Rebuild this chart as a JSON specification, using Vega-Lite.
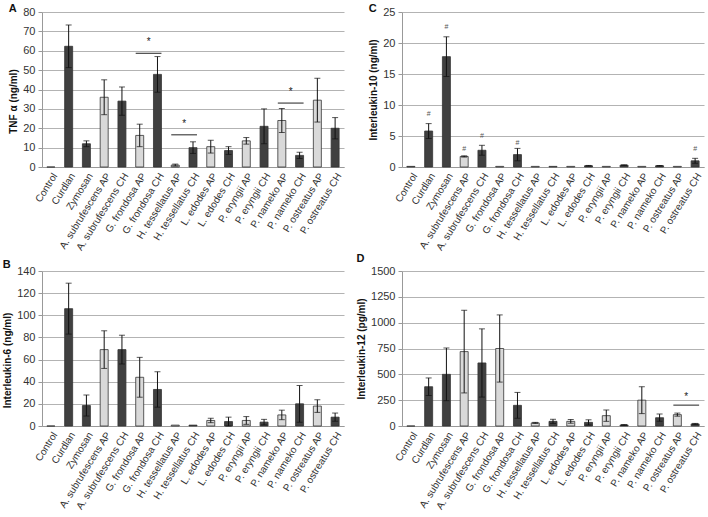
{
  "$schema": "https://vega.github.io/schema/vega-lite/v6.json",
  "padding": {"left": 2, "top": 3, "right": 2, "bottom": 0},
  "background": "white",
  "datasets": {
    "bars": [
      {"p": "A", "c": "Control", "v": 0, "e": 0, "t": "dark"},
      {"p": "A", "c": "Curdlan", "v": 62.3, "e": 11, "t": "dark"},
      {"p": "A", "c": "Zymosan", "v": 12, "e": 1.5, "t": "dark"},
      {"p": "A", "c": "A. subrufescens AP", "v": 36, "e": 9, "t": "light"},
      {"p": "A", "c": "A. subrufescens CH", "v": 34, "e": 7.3, "t": "dark"},
      {"p": "A", "c": "G. frondosa AP", "v": 16.3, "e": 5.8, "t": "light"},
      {"p": "A", "c": "G. frondosa CH", "v": 47.8, "e": 9.2, "t": "dark"},
      {"p": "A", "c": "H. tessellatus AP", "v": 1, "e": 0.5, "t": "light"},
      {"p": "A", "c": "H. tessellatus CH", "v": 10, "e": 3, "t": "dark"},
      {"p": "A", "c": "L. edodes AP", "v": 10.5, "e": 3.3, "t": "light"},
      {"p": "A", "c": "L. edodes CH", "v": 8.5, "e": 2, "t": "dark"},
      {"p": "A", "c": "P. eryngii AP", "v": 13.5, "e": 1.7, "t": "light"},
      {"p": "A", "c": "P. eryngii CH", "v": 21, "e": 9, "t": "dark"},
      {"p": "A", "c": "P. nameko AP", "v": 24, "e": 6.2, "t": "light"},
      {"p": "A", "c": "P. nameko CH", "v": 6, "e": 1.6, "t": "dark"},
      {"p": "A", "c": "P. ostreatus AP", "v": 34.5, "e": 11.3, "t": "light"},
      {"p": "A", "c": "P. ostreatus CH", "v": 20, "e": 5.5, "t": "dark"},
      {"p": "B", "c": "Control", "v": 0, "e": 0, "t": "dark"},
      {"p": "B", "c": "Curdlan", "v": 106, "e": 23, "t": "dark"},
      {"p": "B", "c": "Zymosan", "v": 18.5, "e": 9.5, "t": "dark"},
      {"p": "B", "c": "A. subrufescens AP", "v": 69, "e": 17, "t": "light"},
      {"p": "B", "c": "A. subrufescens CH", "v": 69, "e": 13, "t": "dark"},
      {"p": "B", "c": "G. frondosa AP", "v": 44, "e": 18, "t": "light"},
      {"p": "B", "c": "G. frondosa CH", "v": 33, "e": 16, "t": "dark"},
      {"p": "B", "c": "H. tessellatus AP", "v": 0.8, "e": 0, "t": "light"},
      {"p": "B", "c": "H. tessellatus CH", "v": 0.8, "e": 0, "t": "dark"},
      {"p": "B", "c": "L. edodes AP", "v": 5, "e": 2, "t": "light"},
      {"p": "B", "c": "L. edodes CH", "v": 4, "e": 4, "t": "dark"},
      {"p": "B", "c": "P. eryngii AP", "v": 5, "e": 3.5, "t": "light"},
      {"p": "B", "c": "P. eryngii CH", "v": 3.5, "e": 2.5, "t": "dark"},
      {"p": "B", "c": "P. nameko AP", "v": 10, "e": 4.3, "t": "light"},
      {"p": "B", "c": "P. nameko CH", "v": 20, "e": 16.5, "t": "dark"},
      {"p": "B", "c": "P. ostreatus AP", "v": 18, "e": 5.7, "t": "light"},
      {"p": "B", "c": "P. ostreatus CH", "v": 8, "e": 3.7, "t": "dark"},
      {"p": "C", "c": "Control", "v": 0.1, "e": 0, "t": "dark"},
      {"p": "C", "c": "Curdlan", "v": 5.8, "e": 1.2, "t": "dark"},
      {"p": "C", "c": "Zymosan", "v": 17.8, "e": 3.2, "t": "dark"},
      {"p": "C", "c": "A. subrufescens AP", "v": 1.7, "e": 0.1, "t": "light"},
      {"p": "C", "c": "A. subrufescens CH", "v": 2.7, "e": 0.8, "t": "dark"},
      {"p": "C", "c": "G. frondosa AP", "v": 0.1, "e": 0, "t": "light"},
      {"p": "C", "c": "G. frondosa CH", "v": 2.0, "e": 1.0, "t": "dark"},
      {"p": "C", "c": "H. tessellatus AP", "v": 0.1, "e": 0, "t": "light"},
      {"p": "C", "c": "H. tessellatus CH", "v": 0.1, "e": 0, "t": "dark"},
      {"p": "C", "c": "L. edodes AP", "v": 0.1, "e": 0, "t": "light"},
      {"p": "C", "c": "L. edodes CH", "v": 0.2, "e": 0.05, "t": "dark"},
      {"p": "C", "c": "P. eryngii AP", "v": 0.1, "e": 0, "t": "light"},
      {"p": "C", "c": "P. eryngii CH", "v": 0.3, "e": 0.05, "t": "dark"},
      {"p": "C", "c": "P. nameko AP", "v": 0.1, "e": 0, "t": "light"},
      {"p": "C", "c": "P. nameko CH", "v": 0.2, "e": 0.05, "t": "dark"},
      {"p": "C", "c": "P. ostreatus AP", "v": 0.1, "e": 0, "t": "light"},
      {"p": "C", "c": "P. ostreatus CH", "v": 1.0, "e": 0.4, "t": "dark"},
      {"p": "D", "c": "Control", "v": 0, "e": 0, "t": "dark"},
      {"p": "D", "c": "Curdlan", "v": 380, "e": 85, "t": "dark"},
      {"p": "D", "c": "Zymosan", "v": 500, "e": 255, "t": "dark"},
      {"p": "D", "c": "A. subrufescens AP", "v": 720, "e": 400, "t": "light"},
      {"p": "D", "c": "A. subrufescens CH", "v": 610, "e": 330, "t": "dark"},
      {"p": "D", "c": "G. frondosa AP", "v": 750, "e": 325, "t": "light"},
      {"p": "D", "c": "G. frondosa CH", "v": 200, "e": 125, "t": "dark"},
      {"p": "D", "c": "H. tessellatus AP", "v": 30, "e": 5, "t": "light"},
      {"p": "D", "c": "H. tessellatus CH", "v": 45, "e": 20, "t": "dark"},
      {"p": "D", "c": "L. edodes AP", "v": 45, "e": 18, "t": "light"},
      {"p": "D", "c": "L. edodes CH", "v": 35, "e": 25, "t": "dark"},
      {"p": "D", "c": "P. eryngii AP", "v": 100, "e": 55, "t": "light"},
      {"p": "D", "c": "P. eryngii CH", "v": 10, "e": 4, "t": "dark"},
      {"p": "D", "c": "P. nameko AP", "v": 250, "e": 130, "t": "light"},
      {"p": "D", "c": "P. nameko CH", "v": 80, "e": 35, "t": "dark"},
      {"p": "D", "c": "P. ostreatus AP", "v": 110, "e": 15, "t": "light"},
      {"p": "D", "c": "P. ostreatus CH", "v": 20, "e": 5, "t": "dark"}
    ],
    "sig": [
      {"p": "A", "c1": "G. frondosa AP", "c2": "G. frondosa CH", "ly": 58.7, "sy": 64.5},
      {"p": "A", "c1": "H. tessellatus AP", "c2": "H. tessellatus CH", "ly": 16.6, "sy": 22},
      {"p": "A", "c1": "P. nameko AP", "c2": "P. nameko CH", "ly": 33, "sy": 38.5},
      {"p": "D", "c1": "P. ostreatus AP", "c2": "P. ostreatus CH", "ly": 202, "sy": 280}
    ],
    "hash": [
      {"p": "C", "c": "Curdlan", "y": 8.6},
      {"p": "C", "c": "Zymosan", "y": 22.6},
      {"p": "C", "c": "A. subrufescens AP", "y": 2.9},
      {"p": "C", "c": "A. subrufescens CH", "y": 5.0},
      {"p": "C", "c": "G. frondosa CH", "y": 3.9},
      {"p": "C", "c": "P. ostreatus CH", "y": 2.9}
    ]
  },
  "columns": 2,
  "spacing": {"row": 1, "column": 12},
  "concat": [
    {
      "width": 302, "height": 155,
      "title": {"text": "A"},
      "layer": [
        {"data": {"name": "bars"}, "transform": [{"filter": "datum.p==='A'"}],
         "mark": {"type": "bar", "stroke": "#333", "strokeWidth": 0.8},
         "encoding": {
           "x": {"field": "c", "type": "nominal", "title": null, "scale": {"domain": ["Control","Curdlan","Zymosan","A. subrufescens AP","A. subrufescens CH","G. frondosa AP","G. frondosa CH","H. tessellatus AP","H. tessellatus CH","L. edodes AP","L. edodes CH","P. eryngii AP","P. eryngii CH","P. nameko AP","P. nameko CH","P. ostreatus AP","P. ostreatus CH"], "paddingInner": 0.55, "paddingOuter": 0.275}},
           "y": {"field": "v", "type": "quantitative", "title": "TNF α (ng/ml)", "scale": {"domain": [0, 80], "nice": false}, "axis": {"values": [0,10,20,30,40,50,60,70,80], "titleY": 89}},
           "color": {"field": "t", "type": "nominal", "scale": {"domain": ["dark","light"], "range": ["#404040","#d9d9d9"]}, "legend": null}
         }},
        {"data": {"name": "bars"}, "transform": [{"filter": "datum.p==='A' && datum.e>0"}],
         "mark": {"type": "errorbar", "ticks": {"size": 6}, "color": "#111"},
         "encoding": {
           "x": {"field": "c", "type": "nominal", "title": null},
           "y": {"field": "v", "type": "quantitative", "title": "TNF α (ng/ml)", "axis": {"values": [0,10,20,30,40,50,60,70,80], "titleY": 89}},
           "yError": {"field": "e"}
         }},
        {"data": {"name": "sig"}, "transform": [{"filter": "datum.p==='A'"}],
         "mark": {"type": "rule", "color": "#222", "strokeWidth": 1},
         "encoding": {
           "x": {"field": "c1", "type": "nominal", "title": null, "bandPosition": 0},
           "x2": {"field": "c2", "bandPosition": 1},
           "y": {"field": "ly", "type": "quantitative", "title": "TNF α (ng/ml)", "axis": {"values": [0,10,20,30,40,50,60,70,80], "titleY": 89}}
         }},
        {"data": {"name": "sig"}, "transform": [{"filter": "datum.p==='A'"}],
         "mark": {"type": "text", "text": "*", "fontSize": 10, "color": "#222"},
         "encoding": {
           "x": {"field": "c1", "type": "nominal", "title": null, "bandPosition": 1.611},
           "y": {"field": "sy", "type": "quantitative", "title": "TNF α (ng/ml)", "axis": {"values": [0,10,20,30,40,50,60,70,80], "titleY": 89}}
         }}
      ]
    },
    {
      "width": 302, "height": 155,
      "title": {"text": "C"},
      "layer": [
        {"data": {"name": "bars"}, "transform": [{"filter": "datum.p==='C'"}],
         "mark": {"type": "bar", "stroke": "#333", "strokeWidth": 0.8},
         "encoding": {
           "x": {"field": "c", "type": "nominal", "title": null, "scale": {"domain": ["Control","Curdlan","Zymosan","A. subrufescens AP","A. subrufescens CH","G. frondosa AP","G. frondosa CH","H. tessellatus AP","H. tessellatus CH","L. edodes AP","L. edodes CH","P. eryngii AP","P. eryngii CH","P. nameko AP","P. nameko CH","P. ostreatus AP","P. ostreatus CH"], "paddingInner": 0.55, "paddingOuter": 0.275}},
           "y": {"field": "v", "type": "quantitative", "title": "Interleukin-10 (ng/ml)", "scale": {"domain": [0, 25], "nice": false}, "axis": {"values": [0,5,10,15,20,25]}},
           "color": {"field": "t", "type": "nominal", "scale": {"domain": ["dark","light"], "range": ["#404040","#d9d9d9"]}, "legend": null}
         }},
        {"data": {"name": "bars"}, "transform": [{"filter": "datum.p==='C' && datum.e>0"}],
         "mark": {"type": "errorbar", "ticks": {"size": 6}, "color": "#111"},
         "encoding": {
           "x": {"field": "c", "type": "nominal", "title": null},
           "y": {"field": "v", "type": "quantitative", "title": "Interleukin-10 (ng/ml)", "axis": {"values": [0,5,10,15,20,25]}},
           "yError": {"field": "e"}
         }},
        {"data": {"name": "hash"}, "transform": [{"filter": "datum.p==='C'"}],
         "mark": {"type": "text", "text": "#", "fontSize": 7, "color": "#555"},
         "encoding": {
           "x": {"field": "c", "type": "nominal", "title": null},
           "y": {"field": "y", "type": "quantitative", "title": "Interleukin-10 (ng/ml)", "axis": {"values": [0,5,10,15,20,25]}}
         }}
      ]
    },
    {
      "width": 302, "height": 155,
      "title": {"text": "B", "dy": -3},
      "layer": [
        {"data": {"name": "bars"}, "transform": [{"filter": "datum.p==='B'"}],
         "mark": {"type": "bar", "stroke": "#333", "strokeWidth": 0.8},
         "encoding": {
           "x": {"field": "c", "type": "nominal", "title": null, "scale": {"domain": ["Control","Curdlan","Zymosan","A. subrufescens AP","A. subrufescens CH","G. frondosa AP","G. frondosa CH","H. tessellatus AP","H. tessellatus CH","L. edodes AP","L. edodes CH","P. eryngii AP","P. eryngii CH","P. nameko AP","P. nameko CH","P. ostreatus AP","P. ostreatus CH"], "paddingInner": 0.55, "paddingOuter": 0.275}},
           "y": {"field": "v", "type": "quantitative", "title": "Interleukin-6 (ng/ml)", "scale": {"domain": [0, 140], "nice": false}, "axis": {"values": [0,20,40,60,80,100,120,140], "titleY": 89}},
           "color": {"field": "t", "type": "nominal", "scale": {"domain": ["dark","light"], "range": ["#404040","#d9d9d9"]}, "legend": null}
         }},
        {"data": {"name": "bars"}, "transform": [{"filter": "datum.p==='B' && datum.e>0"}],
         "mark": {"type": "errorbar", "ticks": {"size": 6}, "color": "#111"},
         "encoding": {
           "x": {"field": "c", "type": "nominal", "title": null},
           "y": {"field": "v", "type": "quantitative", "title": "Interleukin-6 (ng/ml)", "axis": {"values": [0,20,40,60,80,100,120,140], "titleY": 89}},
           "yError": {"field": "e"}
         }}
      ]
    },
    {
      "width": 302, "height": 155,
      "title": {"text": "D", "dy": -9},
      "layer": [
        {"data": {"name": "bars"}, "transform": [{"filter": "datum.p==='D'"}],
         "mark": {"type": "bar", "stroke": "#333", "strokeWidth": 0.8},
         "encoding": {
           "x": {"field": "c", "type": "nominal", "title": null, "scale": {"domain": ["Control","Curdlan","Zymosan","A. subrufescens AP","A. subrufescens CH","G. frondosa AP","G. frondosa CH","H. tessellatus AP","H. tessellatus CH","L. edodes AP","L. edodes CH","P. eryngii AP","P. eryngii CH","P. nameko AP","P. nameko CH","P. ostreatus AP","P. ostreatus CH"], "paddingInner": 0.55, "paddingOuter": 0.275}},
           "y": {"field": "v", "type": "quantitative", "title": "Interleukin-12 (pg/ml)", "scale": {"domain": [0, 1500], "nice": false}, "axis": {"values": [0,250,500,750,1000,1250,1500], "format": "d"}},
           "color": {"field": "t", "type": "nominal", "scale": {"domain": ["dark","light"], "range": ["#404040","#d9d9d9"]}, "legend": null}
         }},
        {"data": {"name": "bars"}, "transform": [{"filter": "datum.p==='D' && datum.e>0"}],
         "mark": {"type": "errorbar", "ticks": {"size": 6}, "color": "#111"},
         "encoding": {
           "x": {"field": "c", "type": "nominal", "title": null},
           "y": {"field": "v", "type": "quantitative", "title": "Interleukin-12 (pg/ml)", "axis": {"values": [0,250,500,750,1000,1250,1500], "format": "d"}},
           "yError": {"field": "e"}
         }},
        {"data": {"name": "sig"}, "transform": [{"filter": "datum.p==='D'"}],
         "mark": {"type": "rule", "color": "#222", "strokeWidth": 1},
         "encoding": {
           "x": {"field": "c1", "type": "nominal", "title": null, "bandPosition": 0},
           "x2": {"field": "c2", "bandPosition": 1},
           "y": {"field": "ly", "type": "quantitative", "title": "Interleukin-12 (pg/ml)", "axis": {"values": [0,250,500,750,1000,1250,1500], "format": "d"}}
         }},
        {"data": {"name": "sig"}, "transform": [{"filter": "datum.p==='D'"}],
         "mark": {"type": "text", "text": "*", "fontSize": 10, "color": "#222"},
         "encoding": {
           "x": {"field": "c1", "type": "nominal", "title": null, "bandPosition": 1.611},
           "y": {"field": "sy", "type": "quantitative", "title": "Interleukin-12 (pg/ml)", "axis": {"values": [0,250,500,750,1000,1250,1500], "format": "d"}}
         }}
      ]
    }
  ],
  "config": {
    "view": {"stroke": null},
    "font": "Liberation Sans",
    "title": {"font": "Liberation Sans", "fontSize": 11, "fontWeight": "bold", "anchor": "start", "frame": "bounds", "offset": -8, "color": "#111"},
    "axis": {"labelFont": "Liberation Sans", "titleFont": "Liberation Sans", "labelColor": "#333", "titleColor": "#111", "domainColor": "#999", "tickColor": "#999", "gridColor": "#b3b3b3", "titleFontWeight": "bold", "titleFontSize": 10},
    "axisY": {"grid": true, "labelFontSize": 11, "tickSize": 4, "labelPadding": 3, "titlePadding": 4},
    "axisX": {"grid": false, "labelAngle": -58, "labelFontSize": 10, "labelBaseline": "top", "ticks": false, "labelPadding": 4}
  }
}
